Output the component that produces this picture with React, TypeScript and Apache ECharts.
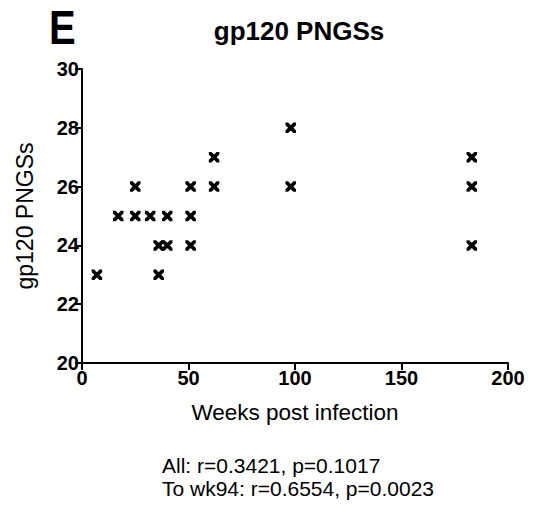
import React, { useEffect, useRef } from "react";
import * as echarts from "echarts";

const weeks = [7, 17, 25, 25, 32, 36, 36, 40, 40, 51, 51, 51, 62, 62, 98, 98, 183, 183, 183];
const pngs = [23, 25, 25, 26, 25, 24, 23, 24, 25, 24, 25, 26, 26, 27, 26, 28, 24, 26, 27];
const xTicks = [0, 50, 100, 150, 200];
const yTicks = [20, 22, 24, 26, 28, 30];
const statLines = ["All: r=0.3421, p=0.1017", "To wk94: r=0.6554, p=0.0023"];

const FONT = "'Liberation Sans', Arial, sans-serif";
const CROSS = "path://M0,0 L2.5,0 L5,2.5 L7.5,0 L10,0 L10,2.5 L7.5,5 L10,7.5 L10,10 L7.5,10 L5,7.5 L2.5,10 L0,10 L0,7.5 L2.5,5 L0,2.5 Z";

export default function App() {
  const ref = useRef<HTMLDivElement>(null);
  useEffect(() => {
    document.body.style.margin = "0";
    const chart = echarts.init(ref.current!, null, { renderer: "svg" });
    const data = weeks.map((w, i) => [w, pngs[i]]);
    chart.setOption({
      animation: false,
      backgroundColor: "#fff",
      textStyle: { fontFamily: FONT },
      grid: { left: 82, right: 31, top: 69, bottom: 144 },
      xAxis: {
        type: "value",
        min: xTicks[0],
        max: xTicks[xTicks.length - 1],
        interval: 50,
        splitLine: { show: false },
        axisLine: { lineStyle: { color: "#000", width: 2 } },
        axisTick: { show: true, length: 7, lineStyle: { color: "#000", width: 2 } },
        axisLabel: { color: "#000", fontWeight: "bold", fontSize: 20, margin: 5, fontFamily: FONT },
        name: "Weeks post infection",
        nameLocation: "middle",
        nameGap: 38,
        nameTextStyle: { color: "#000", fontSize: 22.5, fontFamily: FONT },
      },
      yAxis: {
        type: "value",
        min: yTicks[0],
        max: yTicks[yTicks.length - 1],
        interval: 2,
        splitLine: { show: false },
        axisLine: { lineStyle: { color: "#000", width: 2 } },
        axisTick: { show: true, length: 7, lineStyle: { color: "#000", width: 2 } },
        axisLabel: { color: "#000", fontWeight: "bold", fontSize: 20, margin: 3, fontFamily: FONT },
        name: "gp120 PNGSs",
        nameLocation: "middle",
        nameGap: 46,
        nameTextStyle: { color: "#000", fontSize: 23, fontFamily: FONT },
      },
      title: [
        { text: "gp120 PNGSs", left: 294, textAlign: "center", top: 13, textStyle: { fontSize: 26, fontWeight: "bold", color: "#000", fontFamily: FONT } },
      ],
      graphic: [
        {
          type: "text",
          left: 49,
          top: 3,
          scaleY: 1.2,
          style: { text: "E", fill: "#000", font: `bold 40px ${FONT}` },
        },
        ...statLines.map((t, i) => ({
          type: "text",
          left: 162,
          top: 455 + i * 23,
          style: { text: t, fill: "#000", font: `21px ${FONT}` },
        })),
      ],
      series: [
        {
          type: "scatter",
          data,
          symbol: CROSS,
          symbolSize: 10.5,
          itemStyle: { color: "#000", opacity: 1 },
          clip: false,
        },
      ],
    });
    return () => chart.dispose();
  }, []);
  return <div ref={ref} style={{ position: "fixed", left: 0, top: 0, width: 539, height: 507 }} />;
}
